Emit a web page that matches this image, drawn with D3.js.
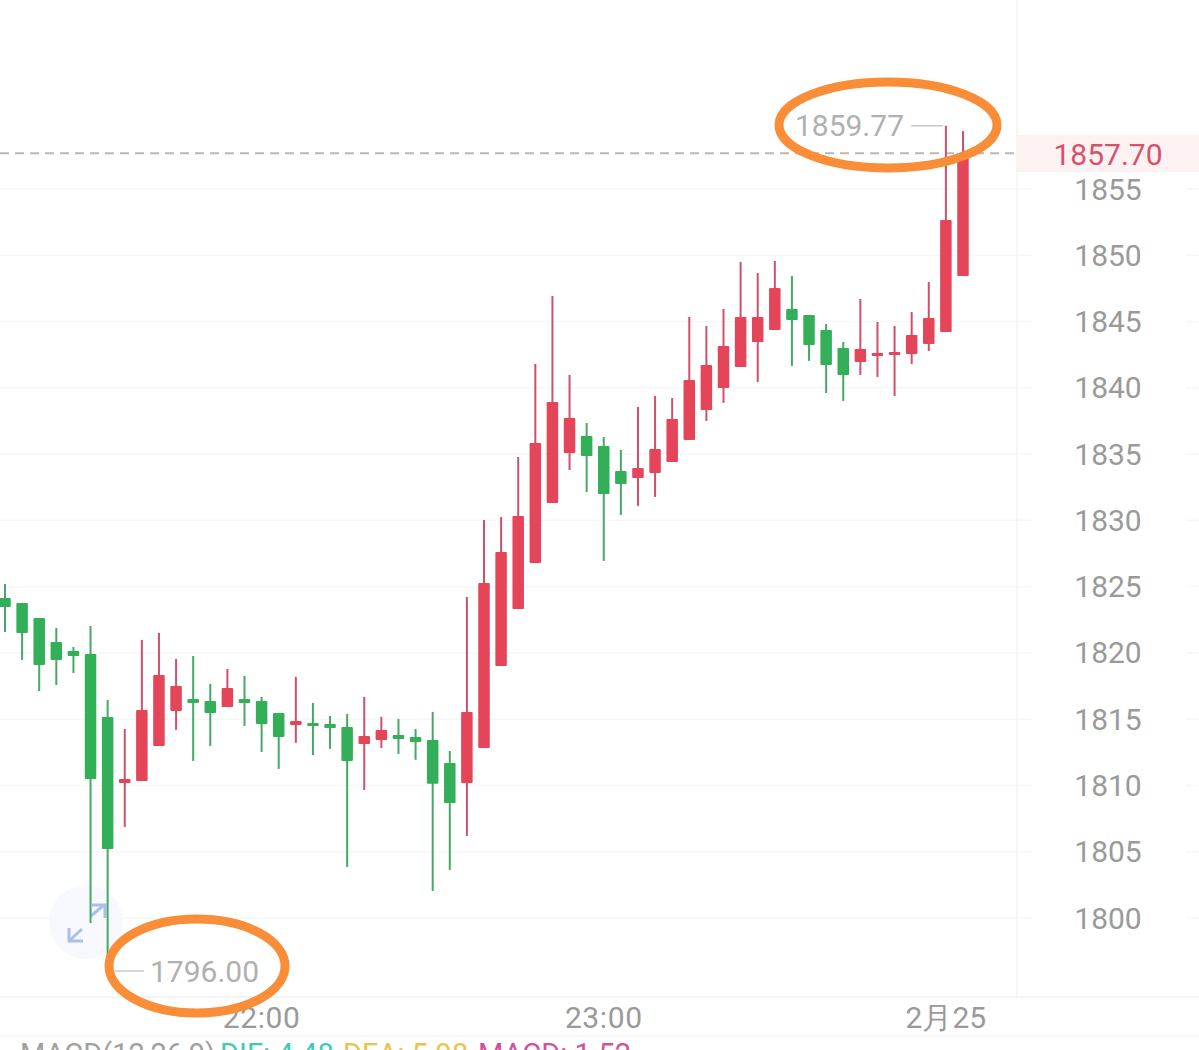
<!DOCTYPE html>
<html><head><meta charset="utf-8">
<style>html,body{margin:0;padding:0;background:#fff;overflow:hidden}svg{display:block}</style>
<script src="https://cdn.jsdelivr.net/npm/d3@7/dist/d3.min.js"></script></head>
<body><svg id="c" width="1199" height="1050"></svg>
<script>
const highs=[1825.20,1823.77,1822.64,1821.88,1820.45,1822.03,1816.45,1814.26,1820.98,1821.51,1819.55,1819.77,1817.66,1818.79,1818.26,1816.68,1815.47,1818.19,1816.23,1815.24,1815.40,1816.68,1815.17,1815.02,1814.26,1815.55,1812.60,1824.22,1830.03,1830.26,1834.78,1841.80,1846.93,1840.97,1837.35,1836.29,1835.31,1838.56,1839.39,1839.23,1845.35,1844.67,1845.95,1849.49,1848.66,1849.57,1848.44,1845.50,1844.82,1843.46,1846.70,1844.97,1844.67,1845.72,1847.99,1859.77,1859.38];
const lows=[1821.58,1819.47,1817.13,1817.58,1818.49,1799.63,1796.00,1806.87,1810.34,1812.98,1814.19,1811.85,1812.98,1815.92,1814.49,1812.53,1811.25,1813.21,1812.30,1812.76,1803.85,1809.66,1812.83,1812.38,1811.93,1802.04,1803.63,1806.19,1812.83,1819.02,1823.32,1826.79,1831.31,1833.80,1832.14,1826.94,1830.41,1831.09,1831.77,1834.41,1836.07,1837.50,1838.86,1841.57,1840.44,1844.36,1841.65,1842.03,1839.61,1839.01,1840.97,1840.82,1839.39,1841.80,1842.78,1844.21,1848.44];
const opens=[1824.15,1823.77,1822.64,1820.83,1820.15,1819.92,1815.17,1810.19,1810.34,1812.98,1815.62,1816.53,1816.38,1815.92,1816.53,1816.38,1815.47,1814.57,1814.72,1814.64,1814.41,1813.13,1813.43,1813.81,1813.66,1813.43,1811.70,1810.19,1812.83,1819.02,1823.32,1826.79,1831.31,1835.09,1836.37,1835.61,1833.73,1833.20,1833.58,1834.41,1836.07,1838.33,1839.99,1841.57,1843.46,1844.36,1845.95,1845.50,1844.36,1843.01,1841.95,1842.48,1842.48,1842.55,1843.31,1844.21,1848.44];
const closes=[1823.47,1821.51,1819.09,1819.47,1819.77,1810.49,1805.21,1810.49,1815.70,1818.34,1817.51,1816.23,1815.47,1817.36,1816.23,1814.64,1813.66,1814.87,1814.49,1814.34,1811.85,1813.74,1814.19,1813.51,1813.28,1810.12,1808.68,1815.55,1825.28,1827.62,1830.33,1835.84,1838.93,1837.73,1834.86,1831.99,1832.75,1833.95,1835.39,1837.65,1840.59,1841.72,1843.16,1845.35,1845.35,1847.53,1845.12,1843.23,1841.72,1840.97,1842.93,1842.63,1842.71,1843.99,1845.27,1852.66,1857.70];
const priceTicks=[1855,1850,1845,1840,1835,1830,1825,1820,1815,1810,1805,1800];
const timeTicks=[{i:15,label:"22:00"},{i:35,label:"23:00"},{i:55,label:"2月25"}];
const lastPrice=1857.70, maxPrice=1859.77, minPrice=1796.00;
const macdParts=[{t:"MACD(12,26,9)",c:"#a0a0a0",x:20},{t:"DIF: 4.48",c:"#3ccbb6",x:220},{t:"DEA: 5.98",c:"#efc04a",x:343},{t:"MACD: 1.52",c:"#d24f9e",x:478}];

const FONT="Roboto, sans-serif";
const svg=d3.select("#c").attr("font-family",FONT);
const y=d3.scaleLinear().domain([1800,1855]).range([918,189]);
const x=d3.scaleLinear().domain([0,56]).range([5,963]);
const RED="#e44559",GREEN="#33ae59",REDW="#d04f6b",GREENW="#45a965";

// panel frame
const gridG=svg.append("g");
gridG.selectAll("line.l").data(priceTicks).join("line").attr("x1",0).attr("x2",1032).attr("y1",d=>y(d)).attr("y2",d=>y(d)).attr("stroke","#f7f7f7").attr("stroke-width",1.5);
gridG.selectAll("line.r").data(priceTicks).join("line").attr("x1",1186).attr("x2",1199).attr("y1",d=>y(d)).attr("y2",d=>y(d)).attr("stroke","#f7f7f7").attr("stroke-width",1.5);
svg.append("line").attr("x1",1017).attr("x2",1017).attr("y1",0).attr("y2",997).attr("stroke","#f3f3f3").attr("stroke-width",1.5);
svg.append("line").attr("x1",0).attr("x2",1199).attr("y1",997).attr("y2",997).attr("stroke","#f0f0f0").attr("stroke-width",1.5);
svg.append("line").attr("x1",0).attr("x2",1199).attr("y1",1036).attr("y2",1036).attr("stroke","#f3f3f3").attr("stroke-width",1.5);

// expand control
const ic=svg.append("g");
ic.append("circle").attr("cx",86).attr("cy",922).attr("r",37).attr("fill","#f7f9fe");
ic.append("path").attr("d","M91 916 L104 905 M92 905 H105 V918 M69 941 L82 929 M69 928 V941 H83").attr("fill","none").attr("stroke","#a9c0ea").attr("stroke-width",3);

// last-price line & tag
svg.append("line").attr("x1",0).attr("x2",1016).attr("y1",y(lastPrice)).attr("y2",y(lastPrice)).attr("stroke","#b8b8b8").attr("stroke-width",2).attr("stroke-dasharray","9 6");
svg.append("rect").attr("x",1017).attr("y",135).attr("width",182).attr("height",37).attr("fill","#fdf2f2");

// candles
const data=d3.range(highs.length).map(i=>({i,h:highs[i],l:lows[i],o:opens[i],c:closes[i]}));
const up=d=>d.c>=d.o;
const cg=svg.append("g");
cg.selectAll("line").data(data).join("line").attr("x1",d=>x(d.i)).attr("x2",d=>x(d.i)).attr("y1",d=>y(d.h)).attr("y2",d=>y(d.l)).attr("stroke",d=>up(d)?REDW:GREENW).attr("stroke-width",2);
cg.selectAll("rect").data(data).join("rect").attr("x",d=>x(d.i)-5.75).attr("width",11.5)
 .attr("y",d=>y(Math.max(d.o,d.c))).attr("height",d=>Math.max(3,y(Math.min(d.o,d.c))-y(Math.max(d.o,d.c)))).attr("rx",1).attr("fill",d=>up(d)?RED:GREEN);

// axis labels
const W=400, AX="#9a9a9a", NOTE="#b0b0b0";
svg.append("g").selectAll("text").data(priceTicks).join("text").attr("x",1108).attr("y",d=>y(d)+10.5).attr("text-anchor","middle").attr("font-size",30).attr("font-weight",W).attr("fill",AX).text(d=>d);
svg.append("text").attr("x",1108).attr("y",164.5).attr("text-anchor","middle").attr("font-size",30).attr("font-weight",W).attr("fill","#d9506c").text(lastPrice.toFixed(2));
svg.append("g").selectAll("text").data(timeTicks).join("text").attr("x",d=>x(d.i)).attr("y",1028).attr("text-anchor","middle").attr("font-size",30).attr("letter-spacing",d=>d.i===55?0:0.6).attr("font-weight",W).attr("fill",AX).text(d=>d.label);

// extreme annotations
svg.append("line").attr("x1",911).attr("x2",943).attr("y1",y(maxPrice)).attr("y2",y(maxPrice)).attr("stroke","#c8c8c8").attr("stroke-width",1.5);
svg.append("text").attr("x",904).attr("y",y(maxPrice)+10.5).attr("text-anchor","end").attr("font-size",30).attr("font-weight",W).attr("fill",NOTE).text(maxPrice.toFixed(2));
svg.append("line").attr("x1",115).attr("x2",144).attr("y1",y(minPrice)).attr("y2",y(minPrice)).attr("stroke","#c8c8c8").attr("stroke-width",1.5);
svg.append("text").attr("x",150).attr("y",y(minPrice)+10.5).attr("font-size",30).attr("font-weight",W).attr("fill",NOTE).text(minPrice.toFixed(2));

// MACD legend
svg.append("g").selectAll("text").data(macdParts).join("text").attr("x",d=>d.x).attr("y",1064).attr("font-size",29).attr("font-weight",W).attr("fill",d=>d.c).text(d=>d.t);

// hand-drawn orange ellipses
const hl=svg.append("g").attr("fill","none").attr("stroke","#f98d38").attr("stroke-width",9);
hl.append("ellipse").attr("cx",888).attr("cy",125).attr("rx",109).attr("ry",43);
hl.append("ellipse").attr("cx",197).attr("cy",966).attr("rx",88).attr("ry",47);
</script></body></html>
